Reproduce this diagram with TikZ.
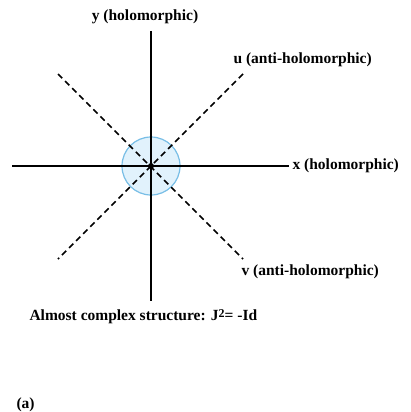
\documentclass[tikz,border=0pt]{standalone}
\usepackage{fontspec}
\setmainfont{Liberation Serif}
\usepackage{xcolor}
\usetikzlibrary{calc, positioning}

\definecolor{ringblue}{RGB}{120,190,230}
\definecolor{ringfill}{RGB}{225,242,252}

\begin{document}
\begin{tikzpicture}[x=1pt, y=-1pt, font=\bfseries\fontsize{15.5}{18}\selectfont]
    \useasboundingbox (0,0) rectangle (411,412);
    % Vòng tròn quanh gốc
    \node[circle, draw=ringblue, fill=ringfill, line width=1.2pt, minimum size=58pt, inner sep=0pt] (ring) at (151,166) {};
    \coordinate (O) at (151,166);
    \fill (O) circle (3pt);

    % Các đầu mút
    \coordinate (xl) at (12,166);
    \coordinate (xr) at (289,166);
    \coordinate (yt) at (151,31);
    \coordinate (yb) at (151,301);
    \coordinate (ur) at (243,74);
    \coordinate (vl) at (58,259);
    \coordinate (ul) at (58,74);
    \coordinate (vr) at (243,259);

    % Trục holomorphic
    \draw[line width=1.5pt] (xl) -- (xr);
    \draw[line width=1.5pt] (yt) -- (yb);

    % Trục anti-holomorphic
    \foreach \a/\b in {ur/vl, ul/vr} {
        \draw[line width=1.5pt, dash pattern=on 6pt off 4pt] (\a) -- (\b);
    }

    % Nhãn
    \node (ylab) at (145,17) {y (holomorphic)};
    \node[anchor=west] (ulab) at (230,60) {u (anti-holomorphic)};
    \node[anchor=west] (xlab) at (289,166) {x (holomorphic)};
    \node[anchor=west] (vlab) at (238,272) {v (anti-holomorphic)};
    \node[anchor=west] (jlab) at (26,317) {Almost complex structure: J\raisebox{0.45ex}{\fontsize{12}{14}\selectfont 2}= -Id};
    \node[anchor=west] (alab) at (13,405) {(a)};
\end{tikzpicture}
\end{document}
